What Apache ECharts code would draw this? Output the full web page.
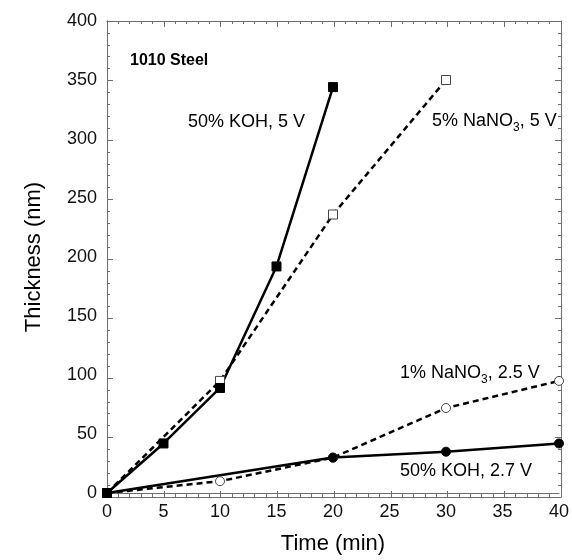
<!DOCTYPE html>
<html><head><meta charset="utf-8">
<script src="https://cdn.jsdelivr.net/npm/echarts@6/dist/echarts.min.js"></script>
<style>html,body{margin:0;padding:0;background:#fff}#c{width:572px;height:560px}</style>
</head><body><div id="c"></div>
<script>
const koh5 = [[0,0],[5,42],[10,89],[15,192],[20,344]];
const nano5 = [[0,0],[10,95],[20,236],[30,350]];
const nano1 = [[0,0],[10,10],[20,30],[30,72],[40,95]];
const koh27 = [[0,0],[20,30],[30,35],[40,42]];
const xTicks = [0,5,10,15,20,25,30,35,40];
const yTicks = [0,50,100,150,200,250,300,350,400];

const FONT = '"Liberation Sans", Arial, sans-serif';
const axisCol = '#6e6e6e';
const chart = echarts.init(document.getElementById('c'));
const rect = {left:107, right:11, top:21, bottom:63};
const X0 = xTicks[0], X1 = xTicks[xTicks.length-1], Y0 = yTicks[0], Y1 = yTicks[yTicks.length-1];
// label axes (grid 0, carries the series)
function labAx(pos, name, gap, lo, hi, step) {
  return {type:'value', gridIndex:0, position:pos, min:lo, max:hi, interval:step,
    name:name, nameLocation:'middle', nameGap:gap,
    nameTextStyle:{fontFamily:FONT, fontSize:22, color:'#000'},
    axisLine:{show:true, onZero:false, lineStyle:{color:axisCol, width:1}},
    axisTick:{show:false}, minorTick:{show:false},
    axisLabel:{show:true, margin:10, fontFamily:FONT, fontSize:18, color:'#111'},
    splitLine:{show:false}};
}
// tick-only axes (grids 1 and 2)
function tickAx(grid, pos, lo, hi, step) {
  return {type:'value', gridIndex:grid, position:pos, min:lo, max:hi, interval:step,
    axisLine:{show:true, onZero:false, lineStyle:{color:axisCol, width:1}},
    axisTick:{show:true, inside:true, length:6, lineStyle:{color:axisCol, width:1}},
    minorTick:{show:true, splitNumber:5, length:3, lineStyle:{color:axisCol, width:1}},
    axisLabel:{show:false}, splitLine:{show:false}};
}
function ser(data, dashed, symbol, filled) {
  return {type:'line', data:data, xAxisIndex:0, yAxisIndex:0, symbol:symbol,
    symbolSize: 9, showAllSymbol:true,
    lineStyle:{color:'#000', width:2.5, type: dashed ? [6,4] : 'solid'},
    itemStyle:{color: filled ? '#000' : '#fff', borderColor: filled ? '#000' : '#444', borderWidth:1},
    emphasis:{disabled:true}};
}
const rich = {
  a:{fontFamily:FONT, fontSize:18, color:'#000'},
  s:{fontFamily:FONT, fontSize:12, color:'#000', verticalAlign:'bottom', padding:[14,0,0,0]}
};
function txt(x, y, text, bold) {
  return {type:'text', left:x, top:y, style:{text:text,
    font: bold ? ('bold 16px ' + FONT) : ('18px ' + FONT), fill:'#000'}};
}
chart.setOption({
  animation:false,
  grid:[Object.assign({}, rect), Object.assign({}, rect), Object.assign({}, rect)],
  xAxis:[labAx('bottom', 'Time (min)', 40, X0, X1, 5),
         tickAx(1, 'bottom', X0, X1, 5), tickAx(2, 'top', X0, X1, 5)],
  yAxis:[labAx('left', 'Thickness (nm)', 62, Y0, Y1, 50),
         tickAx(1, 'left', Y0, Y1, 50), tickAx(2, 'right', Y0, Y1, 50)],
  series:[ser(nano5, true, 'rect', false), ser(nano1, true, 'circle', false),
          ser(koh5, false, 'rect', true), ser(koh27, false, 'circle', true)],
  graphic:[
    txt(130, 53, '1010 Steel', true),
    txt(188, 113, '50% KOH, 5 V', false),
    {type:'text', left:432, top:112, style:{text:'{a|5% NaNO}{s|3}{a|, 5 V}', rich:rich}},
    {type:'text', left:400, top:364, style:{text:'{a|1% NaNO}{s|3}{a|, 2.5 V}', rich:rich}},
    txt(400, 462, '50% KOH, 2.7 V', false)
  ]
});
</script></body></html>
